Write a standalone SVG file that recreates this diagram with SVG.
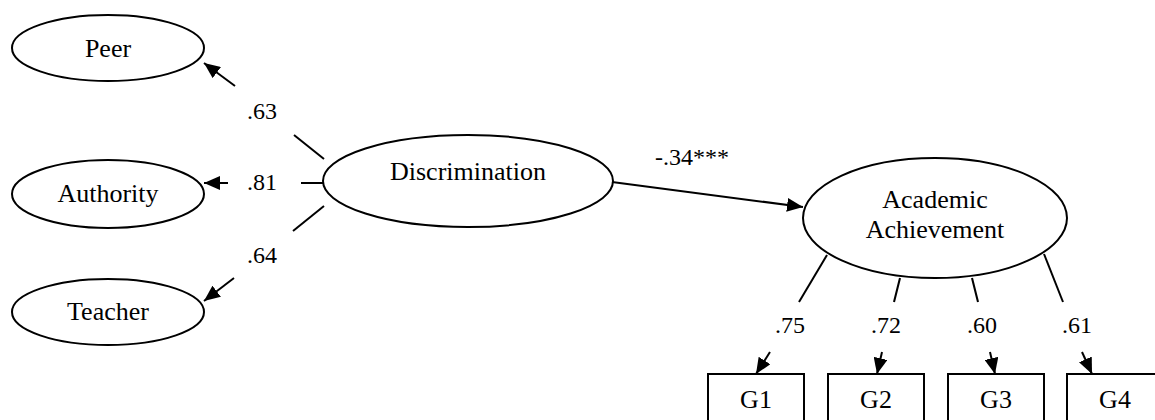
<svg xmlns="http://www.w3.org/2000/svg" width="1155" height="420" viewBox="0 0 1155 420">
<style>
.n{fill:#fff;stroke:#000;stroke-width:2}
text{font-family:"Times New Roman",Times,"Liberation Serif","DejaVu Serif","Noto Serif",Tinos,serif;fill:#000;text-anchor:middle}
.t{font-size:26px}
.l{font-size:24px}
.c{stroke:#000;stroke-width:2;fill:none}
</style>
<defs>
<marker id="ah" markerUnits="userSpaceOnUse" markerWidth="16" markerHeight="14" refX="16" refY="7" orient="auto">
<path d="M0,0 L16,7 L0,14 z" fill="#000"/>
</marker>
</defs>
<rect width="1155" height="420" fill="#fff"/>
<g id="peer"><ellipse class="n" cx="108" cy="48" rx="96" ry="33"/><text class="t" x="108" y="57">Peer</text></g>
<g id="authority"><ellipse class="n" cx="108" cy="194" rx="96" ry="34"/><text class="t" x="108" y="202">Authority</text></g>
<g id="teacher"><ellipse class="n" cx="108" cy="312" rx="96" ry="33"/><text class="t" x="108" y="320">Teacher</text></g>
<g id="discrimination"><ellipse class="n" cx="468" cy="181" rx="145" ry="46"/><text class="t" x="468" y="180">Discrimination</text></g>
<g id="achievement"><ellipse class="n" cx="935" cy="218" rx="132" ry="60"/><text class="t" x="935" y="208">Academic</text><text class="t" x="935" y="238">Achievement</text></g>
<g id="g1"><rect class="n" x="708" y="374" width="96" height="60"/><text class="t" x="756" y="408">G1</text></g>
<g id="g2"><rect class="n" x="828" y="374" width="96" height="60"/><text class="t" x="876" y="408">G2</text></g>
<g id="g3"><rect class="n" x="948" y="374" width="96" height="60"/><text class="t" x="996" y="408">G3</text></g>
<g id="g4"><rect class="n" x="1067" y="374" width="96" height="60"/><text class="t" x="1115" y="408">G4</text></g>
<g id="connectors">
<line class="c" x1="324" y1="159" x2="294" y2="135"/>
<line class="c" x1="235" y1="86" x2="204" y2="63" marker-end="url(#ah)"/>
<line class="c" x1="324" y1="183" x2="301" y2="183"/>
<line class="c" x1="228" y1="183" x2="204" y2="183" marker-end="url(#ah)"/>
<line class="c" x1="324" y1="206" x2="293" y2="231"/>
<line class="c" x1="234" y1="278" x2="204" y2="301" marker-end="url(#ah)"/>
<line class="c" x1="612" y1="182" x2="803" y2="207" marker-end="url(#ah)"/>
<line class="c" x1="827" y1="255" x2="799" y2="302"/>
<line class="c" x1="770" y1="352" x2="756" y2="374" marker-end="url(#ah)"/>
<line class="c" x1="900" y1="278" x2="894" y2="302"/>
<line class="c" x1="882" y1="352" x2="877" y2="374" marker-end="url(#ah)"/>
<line class="c" x1="972" y1="278" x2="978" y2="302"/>
<line class="c" x1="990" y1="352" x2="995" y2="374" marker-end="url(#ah)"/>
<line class="c" x1="1044" y1="254" x2="1063" y2="302"/>
<line class="c" x1="1082" y1="352" x2="1092" y2="374" marker-end="url(#ah)"/>
</g>
<g id="labels">
<text class="l" x="262" y="119">.63</text>
<text class="l" x="262" y="190">.81</text>
<text class="l" x="262" y="263">.64</text>
<text class="l" x="692" y="165">-.34***</text>
<text class="l" x="790" y="333">.75</text>
<text class="l" x="886" y="333">.72</text>
<text class="l" x="982" y="333">.60</text>
<text class="l" x="1077" y="333">.61</text>
</g>
</svg>
